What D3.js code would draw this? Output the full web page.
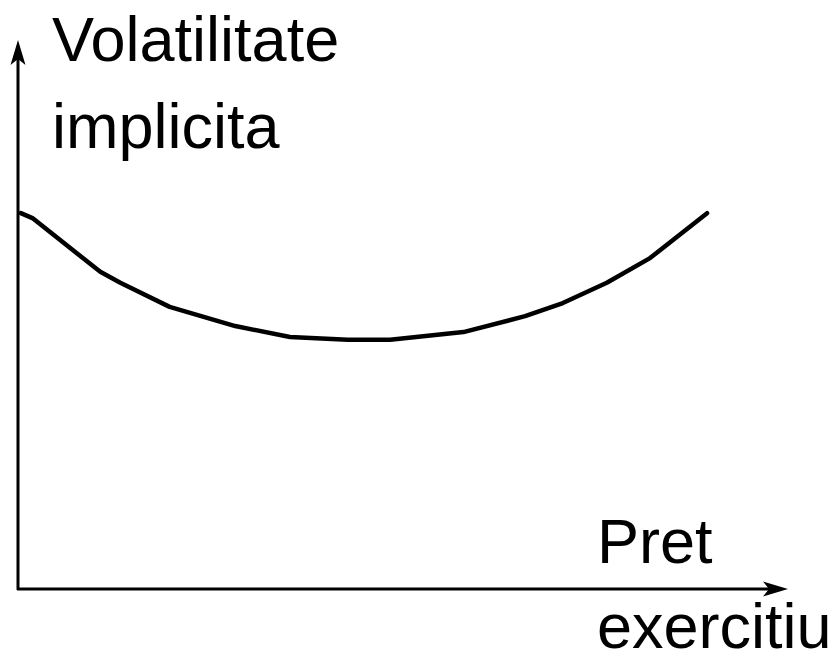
<!DOCTYPE html>
<html>
<head>
<meta charset="utf-8">
<script src="https://cdn.jsdelivr.net/npm/d3@7"></script>
<style>
  html, body { margin: 0; padding: 0; background: #fff; }
  text { font-family: "Liberation Sans", Arial, sans-serif; fill: #000; }
</style>
</head>
<body>
<div id="chart"></div>
<script>
// strike (x) and implied vol (y), arbitrary 0-100 units
const strike = [0.5, 2.0, 10.8, 13.4, 19.8, 28.3, 35.4, 42.9, 48.4, 57.9, 65.9, 70.8, 76.5, 82.1, 89.5];
const vol    = [68.4, 67.5, 57.7, 55.7, 51.3, 47.8, 45.8, 45.3, 45.3, 46.7, 49.6, 52.0, 55.7, 60.2, 68.4];

const yLabel = ["Volatilitate", "implicita"];
const xLabel = ["Pret", "exercitiu"];

const width = 836, height = 657;

const svg = d3.select("#chart")
  .append("svg")
  .attr("width", width)
  .attr("height", height);

const x = d3.scaleLinear().domain([0, 100]).range([17, 788]);
const y = d3.scaleLinear().domain([0, 100]).range([588, 40]);

// arrow heads
const defs = svg.append("defs");
defs.append("marker")
  .attr("id", "arrow")
  .attr("viewBox", "0 0 25 16")
  .attr("refX", 19)
  .attr("refY", 8)
  .attr("markerWidth", 25)
  .attr("markerHeight", 16)
  .attr("markerUnits", "userSpaceOnUse")
  .attr("orient", "auto")
  .append("path")
  .attr("d", "M25,8 L0,0.5 L6,8 L0,15.5 Z")
  .attr("fill", "#000");

// axes
svg.append("line")
  .attr("x1", x(0) + 1).attr("y1", y(0) + 2)
  .attr("x2", x(0) + 1).attr("y2", y(100) + 6)
  .attr("stroke", "#000").attr("stroke-width", 3)
  .attr("marker-end", "url(#arrow)");

svg.append("line")
  .attr("x1", x(0)).attr("y1", y(0) + 1)
  .attr("x2", x(100) - 6).attr("y2", y(0) + 1)
  .attr("stroke", "#000").attr("stroke-width", 3)
  .attr("marker-end", "url(#arrow)");

// smile
const line = d3.line()
  .x((d, i) => x(strike[i]))
  .y(d => y(d));

svg.append("path")
  .datum(vol)
  .attr("d", line)
  .attr("fill", "none")
  .attr("stroke", "#000")
  .attr("stroke-width", 4.5)
  .attr("stroke-linecap", "round")
  .attr("stroke-linejoin", "round");

// labels
svg.append("g").selectAll("text")
  .data(yLabel)
  .join("text")
  .attr("x", 52)
  .attr("y", (d, i) => 61 + i * 87)
  .attr("font-size", 63)
  .text(d => d);

svg.append("g").selectAll("text")
  .data(xLabel)
  .join("text")
  .attr("x", 597)
  .attr("y", (d, i) => 563 + i * 85)
  .attr("font-size", 63)
  .text(d => d);
</script>
</body>
</html>
